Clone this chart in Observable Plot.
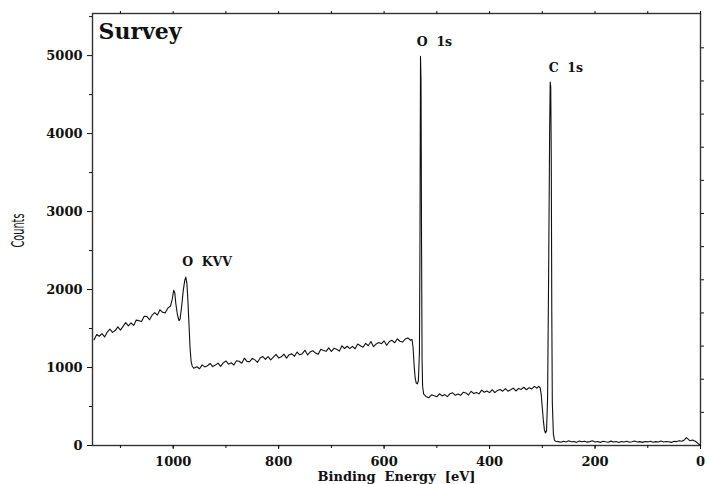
<!DOCTYPE html>
<html>
<head>
<meta charset="utf-8">
<script src="https://cdn.jsdelivr.net/npm/d3@7"></script>
<script src="https://cdn.jsdelivr.net/npm/@observablehq/plot@0.6"></script>
<style>
  html, body { margin: 0; padding: 0; background: #fff; }
  svg text { white-space: pre; }
</style>
</head>
<body>
<div id="chart"></div>
<script>
// Binding energy (eV) and counts
const energy = [
  1150,1145,1140,1135,1130,1125,1120,1115,1110,1105,
  1100,1095,1090,1085,1080,1075,1070,1065,1060,1055,
  1050,1045,1040,1035,1030,1025,1020,1015,1010,1005,
  1002,999,997,995,992,989,987,984,981,978,
  976,974,972,970,968,966,964,961,955,950,
  945,940,935,930,925,920,915,910,905,900,
  895,890,885,880,875,870,865,860,855,850,
  845,840,835,830,825,820,815,810,805,800,
  795,790,785,780,775,770,765,760,755,750,
  745,740,735,730,725,720,715,710,705,700,
  695,690,685,680,675,670,665,660,655,650,
  645,640,635,630,625,620,615,610,605,600,
  595,590,585,580,575,570,565,560,555,550,
  547,545,543,541,539,537,535,533,532,531,
  530,529,528,527,525,522,520,515,510,505,
  500,495,490,485,480,475,470,465,460,455,
  450,445,440,435,430,425,420,415,410,405,
  400,395,390,385,380,375,370,365,360,355,
  350,345,340,335,330,325,320,315,310,307,
  304,302,300,298,296,294,292,290,288,286,
  285,284,283,282,281,279,277,275,270,265,
  260,255,250,245,240,235,230,225,220,215,
  210,205,200,195,190,185,180,175,170,165,
  160,155,150,145,140,135,130,125,120,115,
  110,105,100,95,90,85,80,75,70,65,
  60,55,50,45,40,35,30,27,24,20,
  15,10,6,3,0
];
const counts = [
  1355,1423,1401,1434,1392,1455,1493,1451,1474,1522,
  1480,1528,1576,1534,1572,1540,1608,1601,1589,1657,
  1655,1613,1671,1704,1672,1740,1708,1701,1764,1787,
  1870,1990,1960,1820,1680,1600,1620,1780,1980,2120,
  2160,2080,1850,1550,1250,1080,1020,990,1010,984,
  1034,1008,1023,1052,1012,1031,1056,1015,1059,1084,
  1043,1063,1032,1087,1081,1055,1120,1079,1074,1118,
  1098,1067,1122,1141,1105,1140,1099,1134,1168,1123,
  1137,1172,1121,1165,1175,1144,1199,1163,1178,1222,
  1161,1201,1215,1185,1169,1234,1218,1208,1252,1206,
  1246,1235,1210,1279,1244,1273,1243,1272,1241,1301,
  1280,1260,1309,1279,1333,1267,1302,1321,1306,1340,
  1285,1334,1349,1318,1367,1337,1326,1366,1380,1350,
  1360,1250,1020,860,800,790,830,1200,2600,4990,
  4700,2600,1100,760,660,640,625,613,650,638,
  625,663,636,653,626,664,676,644,661,644,
  682,674,647,695,667,680,662,710,683,700,
  678,715,678,706,718,696,729,696,714,736,
  699,732,719,747,715,742,725,758,735,760,
  740,650,480,320,200,160,190,600,2200,4100,
  4660,4600,3700,1700,550,150,70,55,50,42,
  55,45,60,48,52,40,58,47,55,43,
  50,60,45,52,40,55,48,42,56,45,
  50,38,52,45,55,42,48,58,44,50,
  40,52,46,55,42,50,45,58,44,52,
  48,40,55,50,62,55,75,100,85,60,
  70,55,35,15,5
];

// Tick values
const xMajorTicks = [1000, 800, 600, 400, 200, 0];
const xMinorTicks = [1100, 1000, 900, 800, 700, 600, 500, 400, 300, 200, 100, 0];
const yMajorTicks = [0, 1000, 2000, 3000, 4000, 5000];
const yMinorTicks = [500, 1500, 2500, 3500, 4500, 5500];
const yRightTicks = [425, 850, 1275, 1700, 2125, 2550, 2975, 3400, 3825, 4250, 4675, 5100];

// Peak annotations
const peakNames = ["O  1s", "C  1s", "O  KVV"];
const peakEnergy = [538, 288, 983];
const peakCounts = [5180, 4846, 2359];

const panelTitle = "Survey";
const xTitle = "Binding  Energy  [eV]";
const yTitle = "Counts";

const data = energy.map((e, i) => ({e, c: counts[i]}));

const chart = Plot.plot({
  width: 707,
  height: 484,
  marginLeft: 92,
  marginRight: 7,
  marginTop: 13,
  marginBottom: 39,
  x: {domain: [1153, 0], label: null},
  y: {domain: [0, 5540], label: null},
  style: {fontFamily: "DejaVu Serif", fontWeight: "bold", fontSize: "13px", color: "#111", background: "#fff"},
  marks: [
    Plot.frame({stroke: "#333", strokeWidth: 1.4}),
    Plot.axisY(yMajorTicks, {tickSize: 5, tickPadding: 5, label: null, fontSize: 13, tickFormat: d3.format("d")}),
    Plot.axisY(yMinorTicks, {tickSize: 3, fill: "none", label: null}),
    Plot.axisY(yRightTicks, {anchor: "right", tickSize: 3, fill: "none", label: null}),
    Plot.axisX(xMajorTicks, {tickSize: 4, tickPadding: 7, label: null, fontSize: 13, tickFormat: d3.format("d")}),
    Plot.axisX(xMinorTicks, {tickSize: 3, fill: "none", label: null}),
    Plot.axisX(xMinorTicks, {anchor: "top", tickSize: 3, fill: "none", label: null}),
    Plot.line(data, {x: "e", y: "c", stroke: "#111", strokeWidth: 1.1}),
    Plot.text(peakNames, {x: (d, i) => peakEnergy[i], y: (d, i) => peakCounts[i], text: d => d, textAnchor: "start", fontSize: 12.5}),
    Plot.text([panelTitle], {frameAnchor: "top-left", dx: 6, dy: 10, lineAnchor: "top", textAnchor: "start", fontSize: 22}),
    Plot.text([xTitle], {frameAnchor: "bottom", dy: 31, lineAnchor: "middle", fontSize: 13}),
    Plot.text([yTitle], {frameAnchor: "left", dx: -74, dy: 18, rotate: -90, lineAnchor: "middle", fontSize: 17, fontFamily: "DejaVu Sans", fontWeight: "normal"})
  ]
});
document.getElementById("chart").appendChild(chart);
// Condense the y-axis title to mimic the narrow original lettering
d3.select(chart).selectAll("text").filter(function() { return this.textContent === yTitle; })
  .attr("textLength", 34)
  .attr("lengthAdjust", "spacingAndGlyphs");
</script>
</body>
</html>
